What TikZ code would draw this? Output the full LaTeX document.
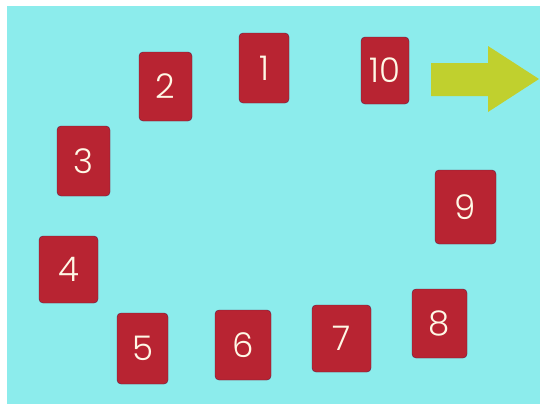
\documentclass[tikz,border=0pt]{standalone}
\usepackage{fontspec}
\setmainfont{Poppins}[UprightFont=* Light]
\usepackage{tikz}
\usetikzlibrary{positioning}
\definecolor{bgcyan}{RGB}{140,236,236}
\definecolor{tilered}{RGB}{184,36,50}
\definecolor{tileedge}{RGB}{100,30,65}
\definecolor{digitcream}{RGB}{255,248,230}
\definecolor{arrowlime}{RGB}{192,208,46}
\tikzset{
  tile/.style = {rectangle, rounded corners=4pt, inner sep=0pt,
                 minimum width=53pt, minimum height=69pt,
                 fill=tilered, draw=tileedge, thin,
                 text=digitcream, font=\fontsize{34}{34}\selectfont},
  bigarrow/.style = {fill=arrowlime, draw=none}
}

\begin{document}
\begin{tikzpicture}[x=1pt, y=-1pt]
  % page and card
  \useasboundingbox (0,0) rectangle (540,405);
  \fill[white] (0,0) rectangle (540,405);
  \fill[bgcyan] (7,6) rectangle (540,404);
  % top row
  \node[tile, minimum width=50pt, minimum height=70pt] (t1)  at (264,68)    {1};
  \node[tile]                                         (t2)  at (165.5,86.5) {2};
  \node[tile, minimum width=48pt, minimum height=67pt] (t10) at (385,70.5)  {10};
  % left side
  \node[tile, minimum height=70pt]                    (t3)  at (83.5,161)   {3};
  \node[tile, minimum width=59pt, minimum height=67pt] (t4)  at (68.5,269.5) {4};
  % bottom row
  \node[tile, minimum width=51pt, minimum height=71pt] (t5)  at (142.5,348.5) {5};
  \node[tile, minimum width=56pt, minimum height=70pt] (t6)  at (243,345)   {6};
  \node[tile, minimum width=59pt, minimum height=67pt] (t7)  at (341.5,338.5) {7};
  \node[tile, minimum width=55pt]                     (t8)  at (439.5,323.5) {8};
  % right side
  \node[tile, minimum width=61pt, minimum height=74pt] (t9)  at (465.5,207) {9};
  % exit arrow
  \fill[bigarrow] (431,63) -- (488,63) -- (488,46) -- (539,79)
    -- (488,112) -- (488,96) -- (431,96) -- cycle;
\end{tikzpicture}
\end{document}
